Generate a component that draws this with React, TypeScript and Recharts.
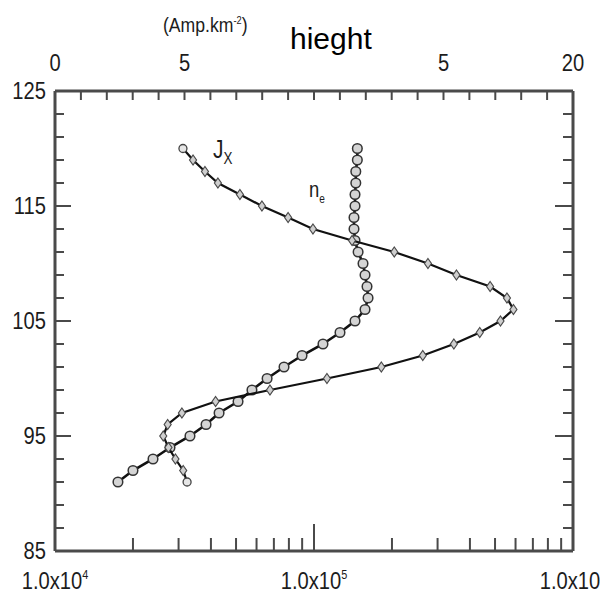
import { Scatter, ScatterChart, XAxis, YAxis } from 'recharts';

// heights (km), one point per km
const heights = [
  120, 119, 118, 117, 116, 115, 114, 113, 112, 111, 110, 109, 108, 107, 106,
  105, 104, 103, 102, 101, 100, 99, 98, 97, 96, 95, 94, 93, 92, 91,
];

// Jx on the top linear axis (Amp.km-2)
const jxValues = [
  4.94, 5.33, 5.79, 6.29, 7.14, 7.99, 9.0, 9.96, 11.47, 13.1, 14.4, 15.5, 16.8, 17.45, 17.7,
  17.2, 16.4, 15.4, 14.2, 12.6, 10.5, 8.3, 6.2, 4.9, 4.35, 4.18, 4.38, 4.65, 4.95, 5.1,
];

// n_e on the bottom log axis
const neValues = [
  147000, 147000, 145000, 145000, 144000, 144000, 142700, 142700, 144000, 148000, 154600, 157400, 160200, 161700, 157400,
  144000, 126000, 108300, 89900, 76600, 65900, 57600, 50900, 43000, 38300, 33200, 27800, 23900, 20000, 17500,
];

const leftTicks = [85, 87, 89, 91, 93, 95, 97, 99, 101, 103, 105, 107, 109, 111, 113, 115, 117, 119, 121, 123, 125];
const leftLabels: Record<number, string> = { 85: '85', 95: '95', 105: '105', 115: '115', 125: '125' };

const topTicks = [0, 1, 2, 3, 4, 5, 6, 7, 8, 9, 10, 11, 12, 13, 14, 15, 16, 17, 18, 19, 20];
const topLabels: Record<number, string> = { 0: '0', 5: '5', 15: '5', 20: '20' };

const bottomTicks = [
  10000, 20000, 30000, 40000, 50000, 60000, 70000, 80000, 90000,
  100000, 200000, 300000, 400000, 500000, 600000, 700000, 800000, 900000, 1000000,
];
const bottomExponents: Record<number, string> = { 10000: '4', 100000: '5', 1000000: '6' };

const jxData = heights.map((h, i) => ({ h, jx: jxValues[i] }));
const neData = heights.map((h, i) => ({ h, ne: neValues[i] }));

const FONT = "'Liberation Sans', Arial, sans-serif";
const INK = '#1c1c1c';
const AXIS = '#4a4a4a';
const SQUEEZE = 0.84;

// condensed-looking text: regular sans squeezed horizontally
const Narrow = ({ x, y, anchor = 'start', size = 24, children }: any) => (
  <g transform={`translate(${x},${y}) scale(${SQUEEZE},1)`}>
    <text x={0} y={0} textAnchor={anchor} fontFamily={FONT} fontSize={size} fill={INK}>
      {children}
    </text>
  </g>
);

const LeftTick = ({ x, y, payload }: any) => {
  const v = payload.value;
  const label = leftLabels[v];
  return (
    <g>
      {v !== 85 && v !== 125 ? (
        <line x1={x} x2={x + (label ? 16 : 9)} y1={y} y2={y} stroke={AXIS} strokeWidth={2} />
      ) : null}
      {label ? (
        <Narrow x={x - 9} y={y + 8} anchor="end">
          {label}
        </Narrow>
      ) : null}
    </g>
  );
};

const RightTick = ({ x, y, payload }: any) => {
  const v = payload.value;
  if (v === 85 || v === 125) return <g />;
  const len = leftLabels[v] ? 18 : 10;
  return <line x1={x} x2={x - len} y1={y} y2={y} stroke={AXIS} strokeWidth={2} />;
};

const TopTick = ({ x, y, payload }: any) => {
  const v = payload.value;
  const label = topLabels[v];
  return (
    <g>
      {v !== 0 && v !== 20 ? <line x1={x} x2={x} y1={y} y2={y + 9} stroke={AXIS} strokeWidth={2} /> : null}
      {label ? (
        <Narrow x={x} y={y - 20} anchor="middle">
          {label}
        </Narrow>
      ) : null}
    </g>
  );
};

const BottomTick = ({ x, y, payload }: any) => {
  const v = payload.value;
  const exp = bottomExponents[v];
  const len = v === 100000 ? 27 : 13;
  return (
    <g>
      {v !== 10000 && v !== 1000000 ? (
        <line x1={x} x2={x} y1={y} y2={y - len} stroke={AXIS} strokeWidth={2} />
      ) : null}
      {exp ? (
        <Narrow x={x} y={y + 38} anchor="middle">
          1.0x10
          <tspan dy={-10} fontSize={13}>
            {exp}
          </tspan>
        </Narrow>
      ) : null}
    </g>
  );
};

const jxShape = (p: any) => {
  const { cx, cy, payload } = p;
  if (payload.h === heights[0] || payload.h === heights[heights.length - 1]) {
    return <circle cx={cx} cy={cy} r={4} fill="#e6e6e6" stroke="#444" strokeWidth={1.3} />;
  }
  return (
    <path
      d={`M${cx},${cy - 5}L${cx + 3.5},${cy}L${cx},${cy + 5}L${cx - 3.5},${cy}Z`}
      fill="#cfcfcf"
      stroke="#4a4a4a"
      strokeWidth={1.2}
    />
  );
};

const neShape = (p: any) => (
  <circle cx={p.cx} cy={p.cy} r={4.8} fill="#d4d4d4" stroke="#333" strokeWidth={1.5} />
);

export default function App() {
  return (
    <div style={{ position: 'relative', width: 600, height: 595 }}>
      <ScatterChart width={600} height={595} margin={{ top: 0, right: 0, bottom: 0, left: 0 }}>
        <XAxis
          xAxisId="bottom"
          dataKey="ne"
          type="number"
          scale="log"
          domain={[10000, 1000000]}
          allowDataOverflow
          ticks={bottomTicks}
          interval={0}
          height={52}
          tickSize={0}
          tickMargin={0}
          tickLine={false}
          axisLine={{ stroke: AXIS, strokeWidth: 3 }}
          tick={(p: any) => <BottomTick {...p} />}
        />
        <XAxis
          xAxisId="top"
          orientation="top"
          dataKey="jx"
          type="number"
          domain={[0, 20]}
          allowDataOverflow
          ticks={topTicks}
          interval={0}
          height={83}
          tickSize={0}
          tickMargin={0}
          tickLine={false}
          axisLine={{ stroke: AXIS, strokeWidth: 3 }}
          tick={(p: any) => <TopTick {...p} />}
        />
        <YAxis
          yAxisId="left"
          dataKey="h"
          type="number"
          domain={[85, 125]}
          allowDataOverflow
          ticks={leftTicks}
          interval={0}
          width={47}
          tickSize={0}
          tickMargin={0}
          tickLine={false}
          axisLine={{ stroke: AXIS, strokeWidth: 3 }}
          tick={(p: any) => <LeftTick {...p} />}
        />
        <YAxis
          yAxisId="right"
          orientation="right"
          dataKey="h"
          type="number"
          domain={[85, 125]}
          allowDataOverflow
          ticks={leftTicks}
          interval={0}
          width={35}
          tickSize={0}
          tickMargin={0}
          tickLine={false}
          axisLine={{ stroke: AXIS, strokeWidth: 3 }}
          tick={(p: any) => <RightTick {...p} />}
        />
        <Scatter
          data={neData}
          xAxisId="bottom"
          yAxisId="left"
          line={{ stroke: '#111', strokeWidth: 2.6 }}
          shape={neShape}
          isAnimationActive={false}
        />
        <Scatter
          data={jxData}
          xAxisId="top"
          yAxisId="left"
          line={{ stroke: '#111', strokeWidth: 2.2 }}
          shape={jxShape}
          isAnimationActive={false}
        />
      </ScatterChart>
      <svg
        width={600}
        height={595}
        style={{ position: 'absolute', left: 0, top: 0, pointerEvents: 'none' }}
      >
        <Narrow x={155} y={24} size={21}>
          (Amp.km
          <tspan dy={-8} fontSize={11}>
            -2
          </tspan>
          <tspan dy={8}>)</tspan>
        </Narrow>
        <text x={282} y={41} fontFamily={FONT} fontSize={30} fill="#000">
          hieght
        </text>
        <Narrow x={205} y={150} size={25}>
          J
          <tspan dy={6} fontSize={16}>
            X
          </tspan>
        </Narrow>
        <Narrow x={301} y={189} size={22}>
          n
          <tspan dy={6} fontSize={12}>
            e
          </tspan>
        </Narrow>
      </svg>
    </div>
  );
}
